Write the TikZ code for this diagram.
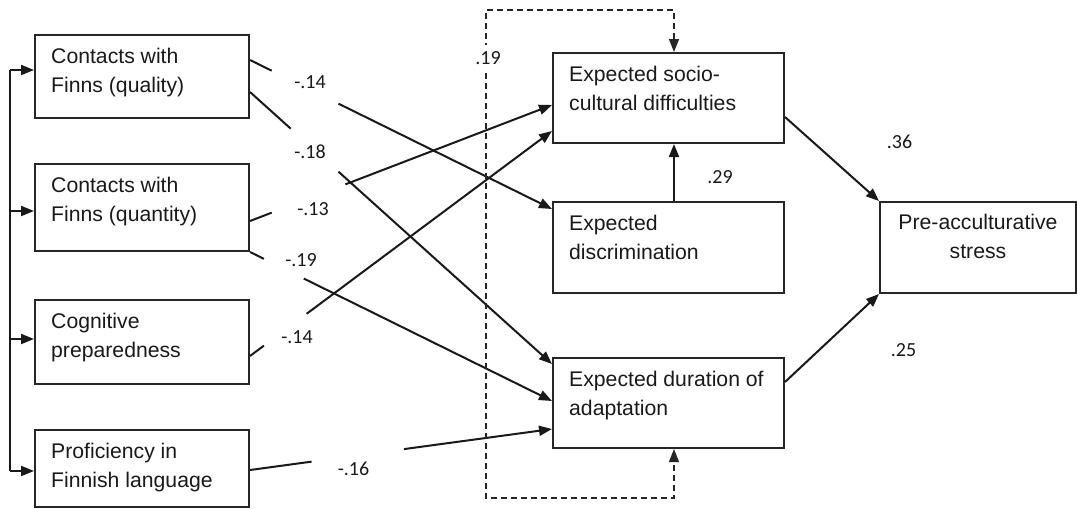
\documentclass[tikz,border=0pt]{standalone}
\usepackage{fontspec}
\setmainfont{Liberation Sans}
\newfontfamily\numfont{Carlito}
\usetikzlibrary{arrows.meta,calc}
\begin{document}
\begin{tikzpicture}[x=1pt,y=-1pt,
  box/.style={draw=black!85, line width=2pt, inner sep=0pt},
  lbox/.style={box, minimum width=214pt},
  mbox/.style={box, minimum width=231pt},
  txt/.style={font=\fontsize{21.2}{29}\selectfont, inner sep=0pt, anchor=base west, text=black!90},
  num/.style={font=\numfont\fontsize{20}{23}\selectfont, inner sep=1pt, text=black!90},
  con/.style={line width=2pt, draw=black!90},
  arr/.style={con, -{Triangle[length=13pt,width=10pt]}},
  dashline/.style={line width=1.4pt, draw=black!85, dash pattern=on 6pt off 4pt}
]
\useasboundingbox (0,0) rectangle (1077,509);

% left boxes
\node[lbox, minimum height=83pt] (q) at (142,76.5) {};
\node[lbox, minimum height=87pt] (n) at (142,207.5) {};
\node[lbox, minimum height=84pt] (c) at (142,342) {};
\node[lbox, minimum height=77pt] (p) at (142,468.5) {};
% middle boxes
\node[mbox, minimum height=90pt] (s) at (668.5,98) {};
\node[mbox, minimum height=91pt] (d) at (668.5,247.5) {};
\node[mbox, minimum height=90pt] (u) at (668.5,403) {};
% right box
\node[box, minimum width=196pt, minimum height=91pt] (r) at (978,247.5) {};

% texts
\node[txt] (tq) at ($(q.north west)+(17,29)$) {\parbox[t]{200pt}{\raggedright Contacts with\\Finns (quality)}};
\node[txt] (tn) at ($(n.north west)+(17,29)$) {\parbox[t]{200pt}{\raggedright Contacts with\\Finns (quantity)}};
\node[txt] (tc) at ($(c.north west)+(17,29)$) {\parbox[t]{200pt}{\raggedright Cognitive\\preparedness}};
\node[txt] (tp) at ($(p.north west)+(17,29)$) {\parbox[t]{200pt}{\raggedright Proficiency in\\Finnish language}};
\node[txt] (ts) at ($(s.north west)+(17,29)$) {\parbox[t]{215pt}{\raggedright Expected socio-\\cultural difficulties}};
\node[txt] (td) at ($(d.north west)+(17,29)$) {\parbox[t]{215pt}{\raggedright Expected\\discrimination}};
\node[txt] (tu) at ($(u.north west)+(17,29)$) {\parbox[t]{215pt}{\raggedright Expected duration of\\adaptation}};
\node[txt, anchor=base] (tr) at ($(r.north)+(0,28)$) {\parbox[t]{190pt}{\centering Pre-acculturative\\stress}};

% left bracket
\coordinate (b1) at (10,70);
\coordinate (b2) at (10,211);
\coordinate (b3) at (10,339);
\coordinate (b4) at (10,471);
\draw[con] (b1) -- (b4);
\draw[arr] (b1) -- (q.west |- b1);
\draw[arr] (b2) -- (n.west |- b2);
\draw[arr] (b3) -- (c.west |- b3);
\draw[arr] (b4) -- (p.west |- b4);

% connector end points
\coordinate (a1) at ($(q.north east)+(0,26)$);
\coordinate (e1) at ($(d.north west)+(0,8)$);
\coordinate (a2) at ($(q.north east)+(0,58)$);
\coordinate (e2) at ($(u.north west)+(0,7)$);
\coordinate (a3) at ($(n.north east)+(0,58)$);
\coordinate (e3) at ($(s.north west)+(0,53)$);
\coordinate (a4) at (n.south east);
\coordinate (e4) at ($(u.north west)+(0,44)$);
\coordinate (a5) at ($(c.north east)+(0,57)$);
\coordinate (e5) at ($(s.north west)+(0,79)$);
\coordinate (a6) at ($(p.north east)+(0,41)$);
\coordinate (e6) at ($(u.north west)+(0,72)$);

\draw[con] (a1) -- ($(a1)!0.072!(e1)$);
\draw[arr] ($(a1)!0.293!(e1)$) -- (e1);
\draw[con] (a2) -- ($(a2)!0.135!(e2)$);
\draw[arr] ($(a2)!0.293!(e2)$) -- (e2);
\draw[con] (a3) -- ($(a3)!0.072!(e3)$);
\draw[arr] ($(a3)!0.316!(e3)$) -- (e3);
\draw[con] (a4) -- ($(a4)!0.046!(e4)$);
\draw[arr] ($(a4)!0.178!(e4)$) -- (e4);
\draw[con] (a5) -- ($(a5)!0.046!(e5)$);
\draw[arr] ($(a5)!0.1875!(e5)$) -- (e5);
\draw[con] (a6) -- ($(a6)!0.204!(e6)$);
\draw[arr] ($(a6)!0.51!(e6)$) -- (e6);

\node[num] (l1) at (310,82) {-.14};
\node[num] (l2) at (310,152) {-.18};
\node[num] (l3) at (313,209) {-.13};
\node[num] (l4) at (301,260) {-.19};
\node[num] (l5) at (297,337) {-.14};
\node[num] (l6) at (353.5,469) {-.16};

% discrimination -> socio
\coordinate (cx) at (674,0);
\draw[arr] (d.north -| cx) -- (s.south -| cx);
\node[num] (l7) at (720,177) {.29};

% to stress
\coordinate (a8) at ($(s.north east)+(0,65)$);
\draw[arr] (a8) -- (r.north west);
\node[num] (l8) at (899.5,142) {.36};
\coordinate (a9) at ($(u.north east)+(0,25)$);
\draw[arr] (a9) -- (r.south west);
\node[num] (l9) at (903.5,350) {.25};

% dashed correlation
\coordinate (dt) at (486,10);
\coordinate (db) at (486,498);
\draw[dashline, {Triangle[length=13pt,width=10pt]}-{Triangle[length=13pt,width=10pt]}]
  (s.north -| cx) -- (cx |- dt) -- (dt) -- (db) -- (cx |- db) -- (u.south -| cx);
\node[num, fill=white, inner ysep=6pt] (l10) at (488,58) {.19};
\end{tikzpicture}
\end{document}
